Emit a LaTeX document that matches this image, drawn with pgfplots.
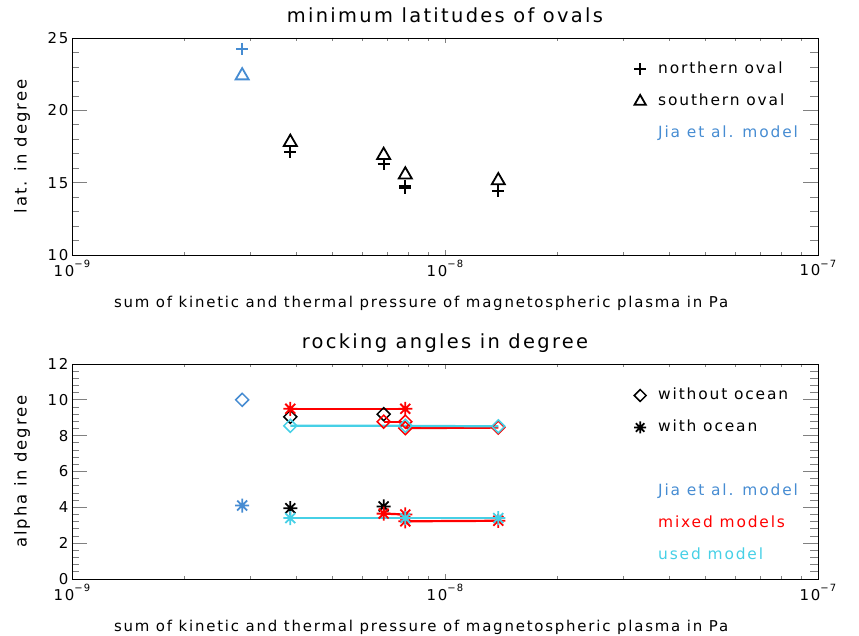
\documentclass[border=0pt]{standalone}
\usepackage{fontspec}
\setmainfont{DejaVu Sans}[LetterSpace=12]
\usepackage{pgfplots}
\pgfplotsset{compat=1.18}
\definecolor{jia}{RGB}{70,140,210}
\definecolor{used}{RGB}{70,208,230}
\pgfdeclareplotmark{ast8}{%
  \pgfpathmoveto{\pgfqpoint{0pt}{\pgfplotmarksize}}\pgfpathlineto{\pgfqpoint{0pt}{-\pgfplotmarksize}}%
  \pgfpathmoveto{\pgfqpoint{\pgfplotmarksize}{0pt}}\pgfpathlineto{\pgfqpoint{-\pgfplotmarksize}{0pt}}%
  \pgfpathmoveto{\pgfqpoint{.7071\pgfplotmarksize}{.7071\pgfplotmarksize}}\pgfpathlineto{\pgfqpoint{-.7071\pgfplotmarksize}{-.7071\pgfplotmarksize}}%
  \pgfpathmoveto{\pgfqpoint{-.7071\pgfplotmarksize}{.7071\pgfplotmarksize}}\pgfpathlineto{\pgfqpoint{.7071\pgfplotmarksize}{-.7071\pgfplotmarksize}}%
  \pgfusepathqstroke}
\newcommand{\ep}[1]{10\raisebox{0.55em}{\fontsize{10}{10}\selectfont #1}}
\begin{document}
\begin{tikzpicture}
\useasboundingbox (0,0) rectangle (859bp,636bp);
\begin{axis}[at={(72bp,381bp)}, anchor=south west,
    xmode=log, xmin=1e-9, xmax=1e-7, scale only axis, width=746bp, height=217bp,
    axis line style={line width=0.9bp},
    xtick={1e-9,1e-8,1e-7},
    xticklabels={\ep{−9},\ep{−8},\ep{−7}},
    major x tick style={/pgfplots/major tick length=5bp, line width=0.8bp},
    minor x tick style={/pgfplots/minor tick length=3bp, line width=0.7bp},
    major y tick style={/pgfplots/major tick length=15bp, line width=0.8bp},
    minor y tick style={/pgfplots/minor tick length=7.5bp, line width=0.7bp},
    minor y tick num=4,
    tick label style={font=\fontsize{15}{15}\selectfont},
    xticklabel style={yshift=-2bp},
    xlabel style={font=\fontsize{15}{15}\selectfont, at={(axis description cs:0.468,-0.222)}, anchor=center},
    ylabel style={font=\fontsize{16.5}{16.5}\selectfont, at={(axis description cs:-0.067,0.5)}, anchor=center},
    title style={font=\fontsize{19.5}{19.5}\selectfont, at={(axis description cs:0.5,1)}, anchor=base, yshift=10bp},
    xlabel={sum of kinetic and thermal pressure of magnetospheric plasma in Pa},
    legend style={draw=none, fill=none, anchor=north west, row sep=16bp, column sep=11bp,
      font=\fontsize{15.5}{15.5}\selectfont,
      nodes={inner sep=1pt, text height=11bp, text depth=3bp},
      at={(axis description cs:0.746,0.902)}},
    legend cell align=left,
    clip=false,
    ymin=10, ymax=25, ytick={10,15,20,25},
    ylabel={lat. in degree}, title={minimum latitudes of ovals},
    /pgf/number format/assume math mode=true]
\addplot[only marks, mark=+, mark size=6bp, line width=1.9bp, black, forget plot] coordinates {(3.85e-9,17.15) (6.85e-9,16.3) (7.83e-9,14.6) (7.83e-9,14.8) (1.39e-8,14.4)};
\addplot[only marks, mark=triangle, mark size=7.5bp, line width=1.8bp, black, forget plot] coordinates {(3.85e-9,17.8) (6.85e-9,16.9) (7.83e-9,15.55) (1.39e-8,15.15)};
\addplot[only marks, mark=+, mark size=6bp, line width=1.9bp, jia, forget plot] coordinates {(2.86e-9,24.25)};
\addplot[only marks, mark=triangle, mark size=7.5bp, line width=1.8bp, jia, forget plot] coordinates {(2.86e-9,22.4)};
\addlegendimage{only marks, mark=+, mark size=6bp, line width=1.9bp, black}
\addlegendentry{northern oval}
\addlegendimage{only marks, mark=triangle, mark size=6.5bp, line width=1.8bp, black}
\addlegendentry{southern oval}
\addlegendimage{empty legend}
\addlegendentry[text=jia]{Jia et al. model}
\end{axis}
\begin{axis}[at={(72bp,57bp)}, anchor=south west,
    xmode=log, xmin=1e-9, xmax=1e-7, scale only axis, width=746bp, height=215bp,
    axis line style={line width=0.9bp},
    xtick={1e-9,1e-8,1e-7},
    xticklabels={\ep{−9},\ep{−8},\ep{−7}},
    major x tick style={/pgfplots/major tick length=5bp, line width=0.8bp},
    minor x tick style={/pgfplots/minor tick length=3bp, line width=0.7bp},
    major y tick style={/pgfplots/major tick length=15bp, line width=0.8bp},
    minor y tick style={/pgfplots/minor tick length=7.5bp, line width=0.7bp},
    minor y tick num=4,
    tick label style={font=\fontsize{15}{15}\selectfont},
    xticklabel style={yshift=-2bp},
    xlabel style={font=\fontsize{15}{15}\selectfont, at={(axis description cs:0.468,-0.225)}, anchor=center},
    ylabel style={font=\fontsize{16.5}{16.5}\selectfont, at={(axis description cs:-0.067,0.5)}, anchor=center},
    title style={font=\fontsize{19.5}{19.5}\selectfont, at={(axis description cs:0.5,1)}, anchor=base, yshift=10bp},
    xlabel={sum of kinetic and thermal pressure of magnetospheric plasma in Pa},
    legend style={draw=none, fill=none, anchor=north west, row sep=16bp, column sep=11bp,
      font=\fontsize{15.5}{15.5}\selectfont,
      nodes={inner sep=1pt, text height=11bp, text depth=3bp},
      at={(axis description cs:0.746,0.901)}},
    legend cell align=left,
    clip=false,
    ymin=0, ymax=12, ytick={0,2,...,12},
    ylabel={alpha in degree}, title={rocking angles in degree},
    /pgf/number format/assume math mode=true]
\addplot[only marks, mark=square, mark size=4.6bp, mark options={rotate=45, line width=1.5bp}, black, forget plot] coordinates {(3.85e-9,9.05) (6.85e-9,9.2)};
\addplot[only marks, mark=ast8, mark size=7bp, mark options={line width=1.8bp}, black, forget plot] coordinates {(3.85e-9,3.95) (6.85e-9,4.05)};
\addplot[red, line width=2.2bp, mark=ast8, mark size=7bp, mark options={line width=1.8bp}, forget plot] coordinates {(3.85e-9,9.5) (7.83e-9,9.5)};
\addplot[red, line width=2.2bp, mark=square, mark size=4.6bp, mark options={rotate=45, line width=1.5bp}, forget plot] coordinates {(6.85e-9,8.78) (7.83e-9,8.78)};
\addplot[red, line width=2.2bp, mark=square, mark size=4.6bp, mark options={rotate=45, line width=1.5bp}, forget plot] coordinates {(7.83e-9,8.42) (1.39e-8,8.45)};
\addplot[red, line width=2.2bp, mark=ast8, mark size=7bp, mark options={line width=1.8bp}, forget plot] coordinates {(6.85e-9,3.65) (7.83e-9,3.6)};
\addplot[red, line width=2.2bp, mark=ast8, mark size=7bp, mark options={line width=1.8bp}, forget plot] coordinates {(7.83e-9,3.22) (1.39e-8,3.25)};
\addplot[used, line width=2.2bp, mark=square, mark size=4.6bp, mark options={rotate=45, line width=1.5bp}, forget plot] coordinates {(3.85e-9,8.55) (7.83e-9,8.55) (1.39e-8,8.52)};
\addplot[used, line width=2.2bp, mark=ast8, mark size=7bp, mark options={line width=1.8bp}, forget plot] coordinates {(3.85e-9,3.4) (7.83e-9,3.4) (1.39e-8,3.4)};
\addplot[only marks, mark=square, mark size=4.6bp, mark options={rotate=45, line width=1.5bp}, jia, forget plot] coordinates {(2.86e-9,10.0)};
\addplot[only marks, mark=ast8, mark size=7bp, mark options={line width=1.8bp}, jia, forget plot] coordinates {(2.86e-9,4.1)};
\addlegendimage{only marks, mark=square, mark size=4.2bp, mark options={rotate=45, line width=1.5bp}, black}
\addlegendentry{without ocean}
\addlegendimage{only marks, mark=ast8, mark size=6bp, mark options={line width=1.8bp}, black}
\addlegendentry{with ocean}
\addlegendimage{empty legend}
\addlegendentry{}
\addlegendimage{empty legend}
\addlegendentry[text=jia]{Jia et al. model}
\addlegendimage{empty legend}
\addlegendentry[text=red]{mixed models}
\addlegendimage{empty legend}
\addlegendentry[text=used]{used model}
\end{axis}
\end{tikzpicture}
\end{document}
